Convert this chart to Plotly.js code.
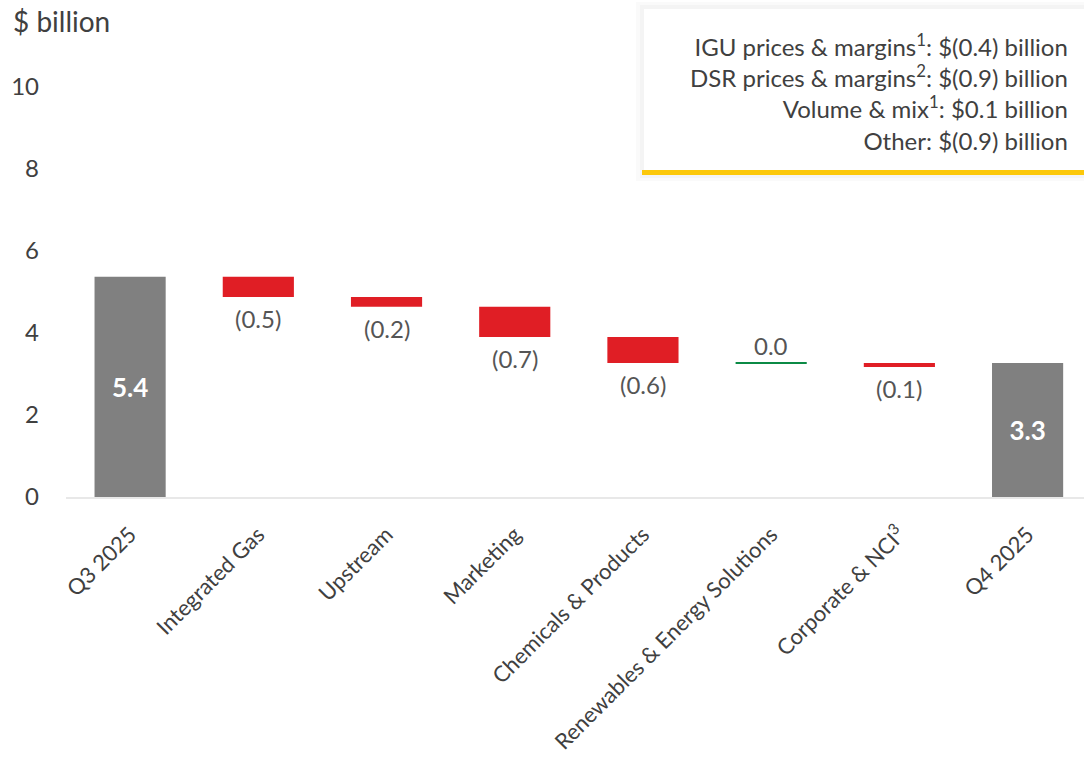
<!DOCTYPE html>
<html>
<head>
<meta charset="utf-8">
<script src="https://cdn.plot.ly/plotly-3.0.1.min.js"></script>
<style>html,body{margin:0;padding:0;background:#fff;}#chart{width:1084px;height:769px;}</style>
</head>
<body>
<div id="chart"></div>
<script>
// ---- data (labels show them rounded) ----
const categories = ['Q3 2025', 'Integrated Gas', 'Upstream', 'Marketing', 'Chemicals & Products',
  'Renewables & Energy Solutions', 'Corporate & NCI<sup>3</sup>', 'Q4 2025'];
const values = [5.37, -0.49, -0.24, -0.74, -0.63, 0.0, -0.1, 3.27];
const measures = ['absolute', 'relative', 'relative', 'relative', 'relative', 'relative', 'relative', 'total'];
const boxLines = [
  'IGU prices & margins<sup>1</sup>: $(0.4) billion',
  'DSR prices & margins<sup>2</sup>: $(0.9) billion',
  'Volume & mix<sup>1</sup>: $0.1 billion',
  'Other: $(0.9) billion'
];
const yTicks = [0, 2, 4, 6, 8, 10];

// ---- colours / styles ----
const GREY = '#808080', RED = '#e01e25', GREEN = '#0b8a45';
const TXT = '#404040', LBL = '#555555';
const FONT = 'Lato, "Open Sans", sans-serif';

// ---- build waterfall from arrays ----
let running = 0;
const bases = [], heights = [], colors = [], lineW = [], lineC = [], texts = [];
const labelAnns = [];
values.forEach((v, i) => {
  const m = measures[i];
  let base, h;
  if (m === 'absolute') { base = 0; h = v; running = v; }
  else if (m === 'total') { base = 0; h = v; }
  else { base = running; h = v; running = running + v; }
  bases.push(base); heights.push(h);
  const fmt = Math.abs(v).toFixed(1);
  if (m !== 'relative') {
    colors.push(GREY); lineW.push(0); lineC.push(GREY);
    texts.push(fmt);
  } else {
    texts.push('');
    if (v < 0) {
      colors.push(RED); lineW.push(0); lineC.push(RED);
      labelAnns.push({ x: categories[i], y: base + h, xref: 'x', yref: 'y', text: '(' + fmt + ')',
        yanchor: 'top', yshift: -5, showarrow: false, font: { family: FONT, size: 24, color: LBL } });
    } else {
      colors.push(GREEN); lineW.push(2); lineC.push(GREEN);
      labelAnns.push({ x: categories[i], y: base + h, xref: 'x', yref: 'y', text: fmt,
        yanchor: 'bottom', yshift: 1, showarrow: false, font: { family: FONT, size: 24, color: LBL } });
    }
  }
});

const trace = {
  type: 'bar',
  x: categories,
  y: heights,
  base: bases,
  width: 0.555,
  marker: { color: colors, line: { width: lineW, color: lineC } },
  text: texts,
  textposition: 'inside',
  insidetextanchor: 'middle',
  insidetextfont: { family: FONT, size: 26, color: '#ffffff', weight: 'bold' },
  constraintext: 'none',
  cliponaxis: false,
  hoverinfo: 'skip'
};

// paper coordinate helpers for the info box (plot area 66..1084 x, 87..497 y)
const L = 66, R = 1084, T = 87, B = 497;
const px = v => (v - L) / (R - L);
const py = v => (B - v) / (B - T);

const layout = {
  width: 1084, height: 769,
  margin: { l: L, r: 1084 - R, t: T, b: 769 - B },
  paper_bgcolor: '#ffffff', plot_bgcolor: '#ffffff',
  font: { family: FONT, color: TXT },
  showlegend: false,
  xaxis: {
    type: 'category',
    range: [-0.5, 7.44],
    tickangle: -45,
    tickfont: { family: FONT, size: 22, color: TXT },
    showgrid: false, zeroline: false,
    showline: true, linecolor: '#e8e8e8', linewidth: 2,
    ticks: '', ticklabelstandoff: 14,
    fixedrange: true
  },
  yaxis: {
    range: [0, 10],
    tickvals: yTicks,
    ticktext: yTicks.map(String),
    tickfont: { family: FONT, size: 24, color: TXT },
    showgrid: false, zeroline: false, showline: false,
    ticks: '', ticklabelstandoff: 26,
    fixedrange: true
  },
  shapes: [
    // soft shadow of info box
    { type: 'rect', xref: 'paper', yref: 'paper', x0: px(636), x1: px(1090), y0: py(181), y1: py(2),
      fillcolor: 'rgba(0,0,0,0.02)', line: { width: 0 }, layer: 'below' },
    { type: 'rect', xref: 'paper', yref: 'paper', x0: px(640), x1: px(1090), y0: py(178), y1: py(5),
      fillcolor: 'rgba(0,0,0,0.025)', line: { width: 0 }, layer: 'below' },
    { type: 'rect', xref: 'paper', yref: 'paper', x0: px(644), x1: px(1090), y0: py(172), y1: py(9),
      fillcolor: '#ffffff', line: { width: 0 }, layer: 'below' },
    { type: 'rect', xref: 'paper', yref: 'paper', x0: px(642), x1: px(1090), y0: py(175), y1: py(170),
      fillcolor: '#fcc80a', line: { width: 0 }, layer: 'above' }
  ],
  annotations: [
    { text: '$ billion', xref: 'paper', yref: 'paper', x: px(11), y: py(21),
      xanchor: 'left', yanchor: 'middle', showarrow: false,
      font: { family: FONT, size: 28, color: TXT } },
    { text: boxLines.join('<br>'), xref: 'paper', yref: 'paper', x: px(1070), y: py(92),
      xanchor: 'right', yanchor: 'middle', align: 'right', showarrow: false,
      font: { family: FONT, size: 24, color: TXT } }
  ].concat(labelAnns)
};

Plotly.newPlot('chart', [trace], layout, { displayModeBar: false, staticPlot: true });
</script>
</body>
</html>
